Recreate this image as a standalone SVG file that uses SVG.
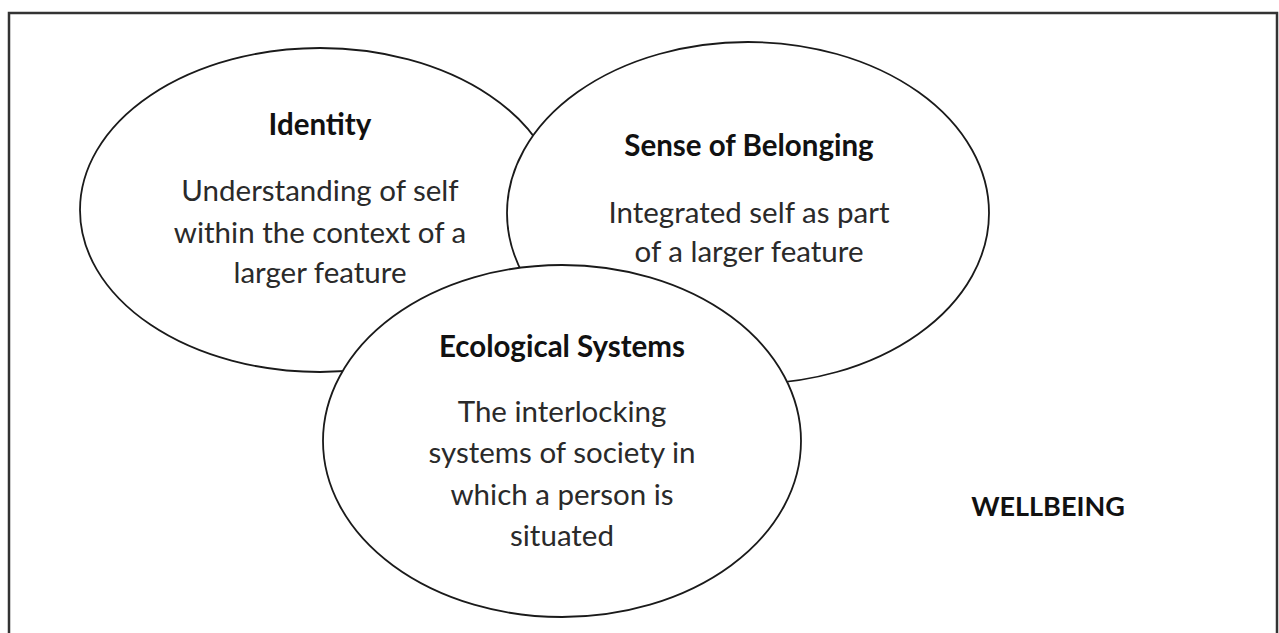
<svg xmlns="http://www.w3.org/2000/svg" width="1279" height="633" viewBox="0 0 1279 633">
<style>
.bg{fill:#ffffff}
.frame{fill:none;stroke:#333333;stroke-width:2.5}
.oval{fill:#ffffff;stroke:#1a1a1a;stroke-width:1.8}
.t{font-family:Lato,"Open Sans","Liberation Sans",sans-serif;text-anchor:middle}
.h{font-weight:bold;font-size:29.5px;fill:#111111}
.b{font-size:29.5px;fill:#2a2a2a}
.w{font-weight:bold;font-size:27px;fill:#111111}
</style>
<rect class="bg" x="0" y="0" width="1279" height="633"/>
<rect class="frame" x="9" y="13" width="1268" height="700"/>
<g id="connectors"/>
<g id="identity">
<ellipse class="oval" cx="320" cy="210" rx="240" ry="162"/>
<text class="t h" x="320" y="135">Identity</text>
<text class="t b" x="320" y="201">Understanding of self</text>
<text class="t b" x="320" y="243">within the context of a</text>
<text class="t b" x="320" y="283">larger feature</text>
</g>
<g id="belonging">
<ellipse class="oval" cx="748" cy="213" rx="241" ry="171"/>
<text class="t h" x="749" y="156">Sense of Belonging</text>
<text class="t b" x="749" y="223">Integrated self as part</text>
<text class="t b" x="749" y="262">of a larger feature</text>
</g>
<g id="ecological">
<ellipse class="oval" cx="562" cy="441" rx="239" ry="176"/>
<text class="t h" x="562" y="357">Ecological Systems</text>
<text class="t b" x="562" y="422">The interlocking</text>
<text class="t b" x="562" y="463">systems of society in</text>
<text class="t b" x="562" y="505">which a person is</text>
<text class="t b" x="562" y="546">situated</text>
</g>
<g id="wellbeing">
<text class="t w" x="1048" y="516">WELLBEING</text>
</g>
</svg>
